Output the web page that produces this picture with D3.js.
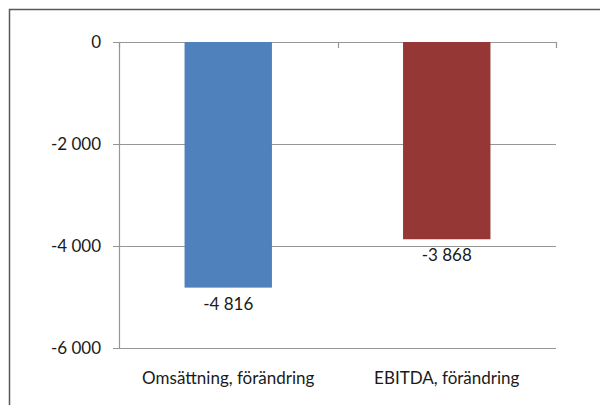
<!DOCTYPE html>
<html>
<head>
<meta charset="utf-8">
<script src="https://cdn.jsdelivr.net/npm/d3@7"></script>
<style>
body { margin: 0; background: #fff; }
text { font-family: Lato, "Open Sans", sans-serif; fill: #1a1a1a; }
</style>
</head>
<body>
<div id="chart"></div>
<script>
var w = 600,
    h = 405;

// data
var categories = ["Omsättning, förändring", "EBITDA, förändring"];
var values = [-4816, -3868];
var colors = ["#4f81bd", "#953735"];
var yTicks = [0, -2000, -4000, -6000];

var pLeft = 119, pRight = 556, pTop = 42, pBottom = 348;
var fs = "17px";

var svg = d3.select("#chart")
    .append("svg")
    .attr("width", w)
    .attr("height", h);

// outer frame
svg.append("rect")
    .attr("x", 9.5)
    .attr("y", 9.5)
    .attr("width", 620)
    .attr("height", 420)
    .attr("fill", "none")
    .attr("stroke", "#595959")
    .attr("stroke-width", 1.5);

var x = d3.scaleBand()
    .domain(categories)
    .range([pLeft, pRight])
    .padding(0);

var y = d3.scaleLinear()
    .domain([0, -6000])
    .range([pTop, pBottom]);

var fmt = function(v) {
    return d3.format(",")(v).replace(/,/g, " ").replace("\u2212", "-");
};

// gridlines
svg.selectAll(".grid")
    .data(yTicks)
    .enter()
    .append("line")
    .attr("x1", pLeft - 6)
    .attr("x2", pRight)
    .attr("y1", function(d) { return Math.round(y(d)) + 0.5; })
    .attr("y2", function(d) { return Math.round(y(d)) + 0.5; })
    .attr("stroke", "#969696")
    .attr("stroke-width", 1.2);

// y axis line
svg.append("line")
    .attr("x1", pLeft + 0.5).attr("x2", pLeft + 0.5)
    .attr("y1", pTop).attr("y2", pBottom)
    .attr("stroke", "#969696")
    .attr("stroke-width", 1.2);

// category tick marks at the 0 line
var bounds = [pLeft, pLeft + x.step(), pRight];
svg.selectAll(".ctick")
    .data(bounds)
    .enter()
    .append("line")
    .attr("x1", function(d) { return Math.round(d) + 0.5; })
    .attr("x2", function(d) { return Math.round(d) + 0.5; })
    .attr("y1", pTop)
    .attr("y2", pTop + 6)
    .attr("stroke", "#969696")
    .attr("stroke-width", 1.2);

// y tick labels
svg.selectAll(".ylab")
    .data(yTicks)
    .enter()
    .append("text")
    .attr("x", 101)
    .attr("y", function(d) { return y(d) + 6; })
    .attr("text-anchor", "end")
    .attr("font-size", fs)
    .text(fmt);

// bars
var bw = x.bandwidth() * 0.4;
svg.selectAll(".bar")
    .data(values)
    .enter()
    .append("rect")
    .attr("x", function(d, i) { return x(categories[i]) + x.bandwidth() / 2 - bw / 2; })
    .attr("y", y(0))
    .attr("width", bw)
    .attr("height", function(d) { return y(d) - y(0); })
    .attr("fill", function(d, i) { return colors[i]; });

// value labels
svg.selectAll(".vlab")
    .data(values)
    .enter()
    .append("text")
    .attr("x", function(d, i) { return x(categories[i]) + x.bandwidth() / 2; })
    .attr("y", function(d) { return y(d) + 22; })
    .attr("text-anchor", "middle")
    .attr("font-size", fs)
    .text(fmt);

// category labels
svg.selectAll(".clab")
    .data(categories)
    .enter()
    .append("text")
    .attr("x", function(d) { return x(d) + x.bandwidth() / 2; })
    .attr("y", 384)
    .attr("text-anchor", "middle")
    .attr("font-size", fs)
    .text(function(d) { return d; });
</script>
</body>
</html>
